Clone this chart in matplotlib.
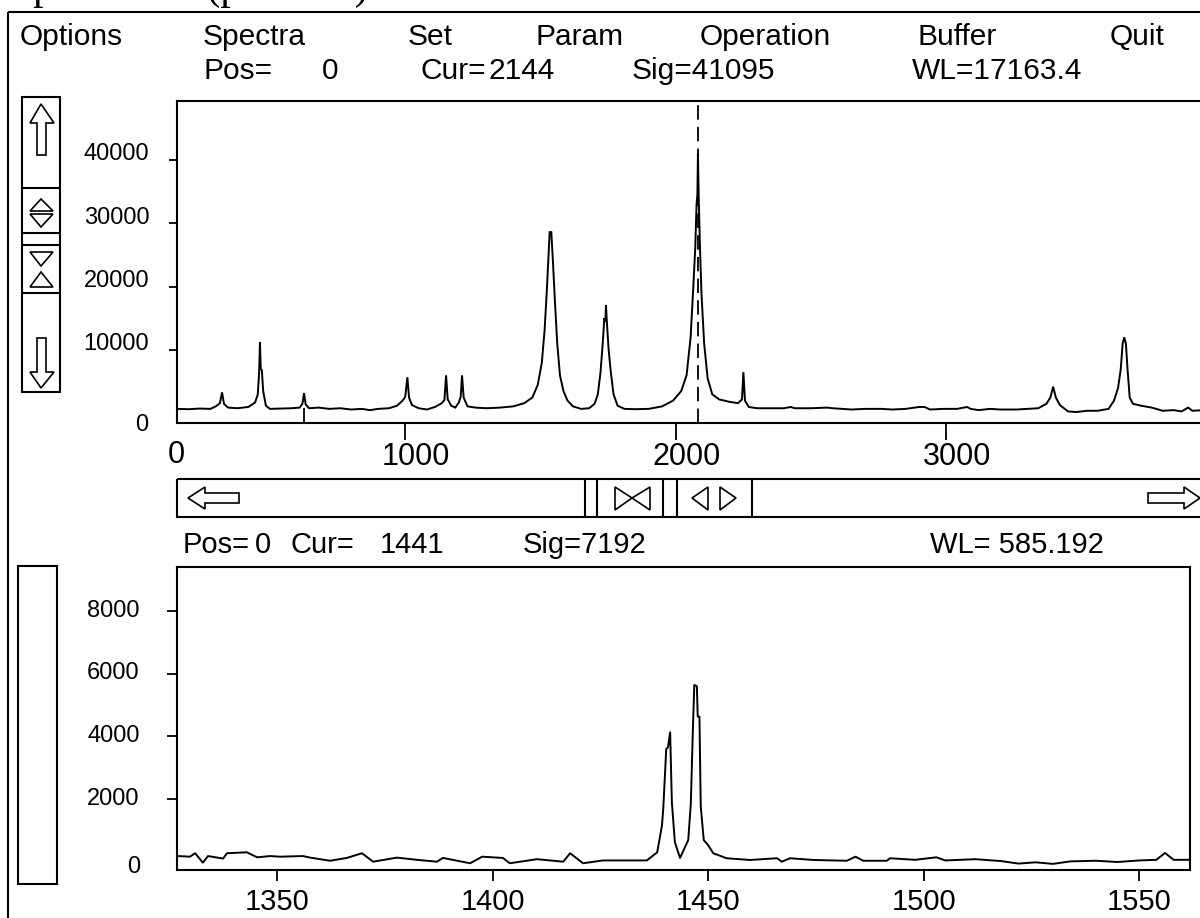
import matplotlib
matplotlib.use("Agg")
import matplotlib.pyplot as plt
from matplotlib.patches import Polygon, Rectangle
from matplotlib.transforms import ScaledTranslation

W, H = 1200, 918

# ---------------- data ----------------
upper_x = [157, 200, 240, 280, 300, 315, 323, 330, 345, 380, 420, 445, 455, 460, 463, 466, 470, 475,
           485, 500, 540, 580, 610, 620, 626, 632, 645, 680, 720, 760, 800, 840, 870, 900, 940, 970,
           990, 1000, 1008, 1014, 1025, 1050, 1080, 1110, 1135, 1145, 1151, 1157, 1170, 1185, 1198,
           1205, 1210, 1216, 1230, 1260, 1300, 1350, 1400, 1440, 1470, 1490, 1505, 1515, 1523, 1530,
           1534, 1540, 1546, 1553, 1562, 1572, 1585, 1600, 1620, 1650, 1680, 1700, 1712, 1722, 1730,
           1736, 1740, 1742, 1746, 1752, 1760, 1770, 1785, 1810, 1850, 1900, 1950, 1990, 2020, 2040,
           2055, 2065, 2072, 2077, 2080, 2082, 2085, 2089, 2095, 2105, 2118, 2135, 2160, 2200, 2230,
           2245, 2250, 2256, 2270, 2300, 2350, 2400, 2425, 2440, 2500, 2560, 2580, 2650, 2700, 2760,
           2800, 2850, 2900, 2920, 2940, 2990, 3040, 3077, 3090, 3120, 3160, 3200, 3260, 3300, 3340,
           3370, 3385, 3395, 3405, 3420, 3450, 3480, 3520, 3560, 3600, 3620, 3635, 3645, 3652, 3658,
           3664, 3670, 3678, 3690, 3720, 3760, 3800, 3840, 3870, 3894, 3910, 3950]
upper_y = [700, 650, 750, 700, 1100, 1600, 3300, 1500, 900, 800, 1000, 1700, 3000, 6500, 11200, 7000, 6800, 3500,
           1200, 700, 750, 800, 900, 1500, 3200, 1400, 800, 900, 700, 800, 600, 700, 500, 700, 800, 1200,
           2000, 2600, 5700, 2500, 1300, 800, 600, 1000, 1600, 2100, 6000, 2200, 1200, 900, 1700,
           2600, 6000, 2500, 1100, 900, 800, 900, 1100, 1600, 2500, 4500, 8000, 13000, 19000, 25000,
           28600, 28600, 24000, 18000, 11000, 6000, 3500, 2000, 1100, 700, 800, 1500, 3000, 6500, 11000,
           15000, 14500, 17100, 14000, 10000, 6500, 3000, 1200, 700, 650, 700, 1100, 2000, 3500, 6000,
           12000, 20000, 26000, 33000, 34500, 41000, 34000, 27000, 19000, 11000, 5500, 3000, 2200, 1800, 1600,
           2200, 6500, 2000, 1000, 800, 800, 800, 1000, 800, 800, 900, 800, 600, 700, 700,
           600, 700, 1000, 1000, 600, 700, 700, 1000, 700, 500, 700, 600, 600, 700, 800,
           1500, 2500, 4200, 2500, 1300, 300, 200, 400, 400, 700, 2000, 4000, 7000, 11000, 12000,
           11000, 7000, 2500, 1500, 1200, 900, 400, 500, 300, 900, 400, 500]
upper_xticks = [1000, 2000, 3000]
upper_yticks = [10000, 20000, 30000, 40000]
upper_cursor = 2082
upper_marker = 626

lower_x = [1326.7, 1329.8, 1331, 1332.8, 1334, 1337.5, 1338.4, 1343, 1345.4, 1348.4, 1350.7, 1356,
           1357.7, 1362.3, 1366.2, 1369.7, 1372.3, 1377.8, 1383.2, 1387.1, 1388.5, 1394.8, 1397.6,
           1402.4, 1404, 1410.3, 1416.4, 1418, 1421, 1425.6, 1435.8, 1438.2, 1439.3, 1439.6, 1440.3,
           1440.7, 1441.2, 1441.6, 1442.3, 1443.5, 1445.4, 1446.0, 1446.5, 1446.8, 1447.4, 1447.6,
           1448.0, 1448.3, 1449.0, 1450.0, 1451.2, 1454.3, 1459.7, 1466, 1467.1, 1469, 1474.5, 1482.2,
           1484.2, 1486, 1491.5, 1492.2, 1498, 1503, 1505, 1512, 1518, 1522, 1526, 1530, 1534, 1540,
           1545, 1550, 1554, 1556, 1558, 1562]
lower_y = [182, 160, 270, -30, 180, 100, 270, 300, 140, 180, 160, 180,
           130, 30, 120, 270, 0, 130, 50, 0, 120, -50, 160,
           120, -50, 80, 0, 270, -50, 40, 40, 300, 1150, 1680, 3600,
           3650, 4130, 1900, 620, 120, 690, 1860, 4310, 5640, 5600, 4630,
           4630, 1760, 690, 530, 270, 110, 55, 110, 0, 110, 55, 30,
           160, 30, 30, 110, 60, 140, 40, 80, 20, -60, -20, -70, 10, 30,
           -10, 40, 60, 280, 60, 60]
lower_xticks = [1350, 1400, 1450, 1500, 1550]
lower_yticks = [2000, 4000, 6000, 8000]

menu_items = ["Options", "Spectra", "Set", "Param", "Operation", "Buffer", "Quit"]
upper_info = ["Pos=", "0", "Cur=", "2144", "Sig=41095", "WL=17163.4"]
lower_info = ["Pos=", "0", "Cur=", "1441", "Sig=7192", "WL= 585.192"]
caption = "Spectra tab (preview)"

# ---------------- layout helpers ----------------
UI_FONT = ["Liberation Sans", "DejaVu Sans"]
LW = 1.5


def frac(x0, y0, x1, y1):
    return [x0 / W, 1 - y1 / H, (x1 - x0) / W, (y1 - y0) / H]


fig = plt.figure(figsize=(W / 100, H / 100), dpi=100)
fig.patch.set_facecolor("white")

# ---------------- upper spectrum ----------------
ax1 = fig.add_axes(frac(177, 101, 1203, 423))
ax1.plot(upper_x, upper_y, color="black", lw=1.4, solid_joinstyle="miter")
ax1.set_xlim(156.4, 3949)
ax1.set_ylim(-1530, 49300)
ax1.axvline(upper_cursor, color="black", lw=1.3, ls=(0, (8, 4)))
ax1.vlines(upper_marker, -1530, 900, color="black", lw=1.3)
ax1.set_xticks(upper_xticks)
ax1.set_xticklabels([str(t) for t in upper_xticks])
ax1.set_yticks(upper_yticks)
ax1.set_yticklabels([str(t) for t in upper_yticks])
ax1.tick_params(axis="y", direction="out", length=6, width=1.3, pad=14, labelsize=17)
ax1.tick_params(axis="x", direction="out", length=12, width=1.3, pad=2, labelsize=22)
for lab in ax1.get_yticklabels():
    lab.set_family(UI_FONT)
    lab.set_transform(lab.get_transform() + ScaledTranslation(0, 0.08, fig.dpi_scale_trans))
for lab in ax1.get_xticklabels():
    lab.set_family(UI_FONT)
    lab.set_transform(lab.get_transform() + ScaledTranslation(0.11, 0, fig.dpi_scale_trans))
for s in ax1.spines.values():
    s.set_linewidth(LW)
ax1.spines["right"].set_visible(False)

# ---------------- lower spectrum ----------------
ax2 = fig.add_axes(frac(177, 567, 1190, 870))
ax2.plot(lower_x, lower_y, color="black", lw=1.4)
ax2.set_xlim(1326.8, 1561.8)
ax2.set_ylim(-265, 9406)
ax2.set_xticks(lower_xticks)
ax2.set_xticklabels([str(t) for t in lower_xticks])
ax2.set_yticks(lower_yticks)
ax2.set_yticklabels([str(t) for t in lower_yticks])
ax2.tick_params(axis="y", direction="out", length=7, width=1.3, pad=20, labelsize=17)
ax2.tick_params(axis="x", direction="out", length=8, width=1.3, pad=5, labelsize=21)
for lab in ax2.get_yticklabels():
    lab.set_family(UI_FONT)
    lab.set_transform(lab.get_transform() + ScaledTranslation(0, 0.03, fig.dpi_scale_trans))
for lab in ax2.get_xticklabels():
    lab.set_family(UI_FONT)
for s in ax2.spines.values():
    s.set_linewidth(LW)

# ---------------- UI overlay (pixel coordinates) ----------------
ui = fig.add_axes([0, 0, 1, 1])
ui.set_xlim(0, W)
ui.set_ylim(H, 0)
ui.axis("off")
ui.patch.set_alpha(0)


def line(xs, ys, lw=LW):
    ui.plot(xs, ys, color="black", lw=lw, solid_capstyle="butt")


def rect(x0, y0, x1, y1, lw=LW):
    ui.add_patch(Rectangle((x0, y0), x1 - x0, y1 - y0, fill=False, ec="black", lw=lw))


def poly(pts, lw=1.2):
    ui.add_patch(Polygon(pts, closed=True, fill=False, ec="black", lw=lw, joinstyle="miter"))


# caption of the page above the window: only the descenders reach into the picture
ui.text(10, -1, caption, family=["Liberation Serif", "DejaVu Serif"], fontsize=30,
        ha="left", va="baseline")

# window frame
line([8, 8], [12, H])
line([8, W], [12, 12])

# menu row
menu_x = [20, 203, 408, 535, 700, 918, 1110]
for x, t in zip(menu_x, menu_items):
    ui.text(x, 37, t, family=UI_FONT, fontsize=21.5, ha="left", va="center")

# upper info row
uinfo_x = [203, 322, 420, 488, 632, 912]
for x, t in zip(uinfo_x, upper_info):
    ui.text(x, 71, t, family=UI_FONT, fontsize=21.5, ha="left", va="center")

# "0" labels at the axis origins
ui.text(176, 455, "0", family=UI_FONT, fontsize=22, ha="center", va="center")
ui.text(148, 425, "0", family=UI_FONT, fontsize=17, ha="right", va="center")
ui.text(140, 867, "0", family=UI_FONT, fontsize=17, ha="right", va="center")

# upper-left vertical control
rect(22, 97, 60, 392)
for yy in (188, 233, 245, 293):
    line([22, 60], [yy, yy])
poly([(41, 104), (30, 123), (37, 123), (37, 155), (46, 155), (46, 123), (54, 123)])
poly([(41, 199), (30, 211), (53, 211)])
poly([(30, 214), (53, 214), (41, 227)])
poly([(30, 252), (53, 252), (41, 266)])
poly([(41, 272), (30, 287), (53, 287)])
poly([(41, 388), (30, 372), (37, 372), (37, 338), (46, 338), (46, 372), (54, 372)])

# horizontal scroll bar
rect(177, 479, 1210, 517)
for xx in (585, 597, 663, 677, 752):
    line([xx, xx], [479, 517])
poly([(188, 498), (205, 487), (205, 493), (239, 493), (239, 503), (205, 503), (205, 509)])
poly([(1200, 498), (1184, 487), (1184, 493), (1148, 493), (1148, 503), (1184, 503), (1184, 509)])
poly([(615, 487), (615, 510), (632, 498)])
poly([(650, 487), (650, 510), (632, 498)])
poly([(692, 498), (708, 487), (708, 510)])
poly([(736, 498), (720, 487), (720, 510)])

# lower info row
linfo_x = [183, 255, 290, 380, 523, 930]
for x, t in zip(linfo_x, lower_info):
    ui.text(x, 545, t, family=UI_FONT, fontsize=21, ha="left", va="center")

# lower-left empty control
rect(18, 566, 57, 884)

fig.savefig("out.png", dpi=100, facecolor="white")
